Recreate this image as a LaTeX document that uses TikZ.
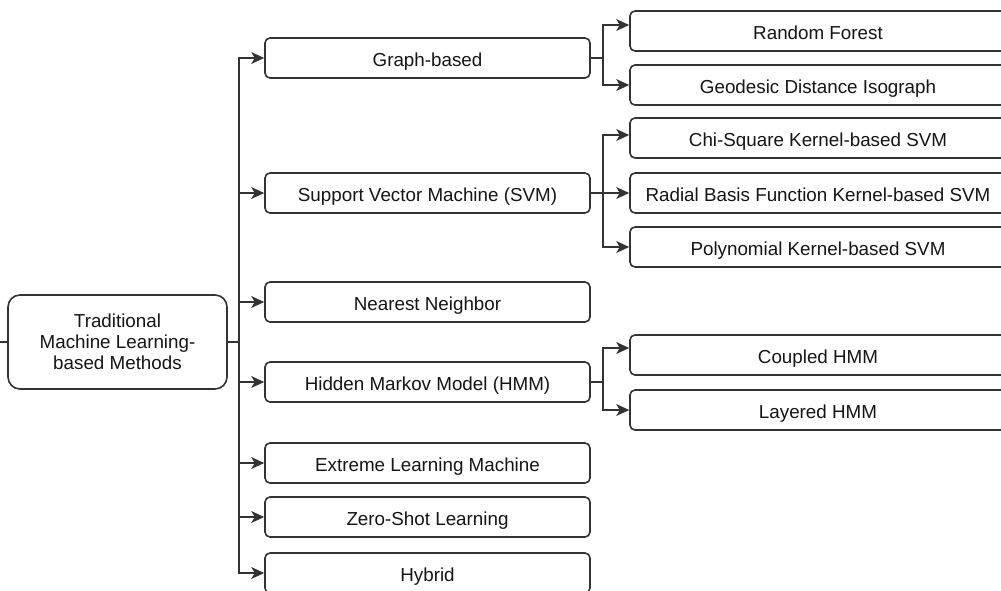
\documentclass[tikz,border=0pt]{standalone}
\usepackage{fontspec}
\setmainfont{Liberation Sans}
\usetikzlibrary{arrows.meta,calc}
\definecolor{ln}{HTML}{333333}
\definecolor{tx}{HTML}{151515}
\tikzset{
  box/.style={draw=ln, line width=1.6pt, rounded corners=5pt, fill=white, text=tx,
    font=\fontsize{18.8}{21}\selectfont, inner sep=0pt, align=center},
  midbox/.style={box, minimum width=325pt, minimum height=40pt, text height=19pt, text depth=2pt},
  rbox/.style={box, minimum width=376pt, minimum height=40pt, text height=19pt, text depth=2pt},
  conn/.style={draw=ln, line width=1.6pt},
  arr/.style={conn, -{Stealth[length=13pt,width=12pt,inset=3.5pt,line width=0pt]}}
}
\begin{document}
\begin{tikzpicture}[x=1pt,y=-1pt]
\useasboundingbox (0,0) rectangle (1001,590);
\clip (0,0) rectangle (1001,590);
% root
\node[box, rounded corners=12pt, minimum width=219pt, minimum height=94pt] (root) at (117.5,342) {Traditional\\Machine Learning-\\based Methods};
% middle column
\node[midbox] (g)   at (427.5,58)  {Graph-based};
\node[midbox] (svm) at (427.5,193) {Support Vector Machine (SVM)};
\node[midbox] (nn)  at (427.5,302) {Nearest Neighbor};
\node[midbox] (hmm) at (427.5,382) {Hidden Markov Model (HMM)};
\node[midbox] (elm) at (427.5,463) {Extreme Learning Machine};
\node[midbox] (zsl) at (427.5,517) {Zero-Shot Learning};
\node[midbox] (hyb) at (427.5,573) {Hybrid};
% right column
\node[rbox] (rf)   at (818,31)  {Random Forest};
\node[rbox] (geo)  at (818,85)  {Geodesic Distance Isograph};
\node[rbox] (chi)  at (818,138) {Chi-Square Kernel-based SVM};
\node[rbox] (rbf)  at (818,193) {Radial Basis Function Kernel-based SVM};
\node[rbox] (poly) at (818,247) {Polynomial Kernel-based SVM};
\node[rbox] (chmm) at (818,355) {Coupled HMM};
\node[rbox] (lhmm) at (818,410) {Layered HMM};
% helper coordinates
\coordinate (stub) at (0,342);
\coordinate (tx) at (239,342);
\coordinate (jx) at (603,0);
% left stub
\draw[conn] (stub) -- (root.west);
% trunk
\foreach \n in {g,svm,nn,hmm,elm,zsl,hyb}{
  \draw[arr] (root.east) -- (tx) |- (\n.west);
}
% graph-based branch
\draw[arr] (g.east) -- (jx |- g.east) |- ([yshift=6pt]rf.west);
\draw[arr] (g.east) -- (jx |- g.east) |- (geo.west);
% svm branch
\draw[arr] (svm.east) -- (jx |- svm.east) |- ([yshift=3pt]chi.west);
\draw[arr] (svm.east) -- (rbf.west);
\draw[arr] (svm.east) -- (jx |- svm.east) |- (poly.west);
% hmm branch
\draw[arr] (hmm.east) -- (jx |- hmm.east) |- ([yshift=7pt]chmm.west);
\draw[arr] (hmm.east) -- (jx |- hmm.east) |- (lhmm.west);
\end{tikzpicture}
\end{document}
